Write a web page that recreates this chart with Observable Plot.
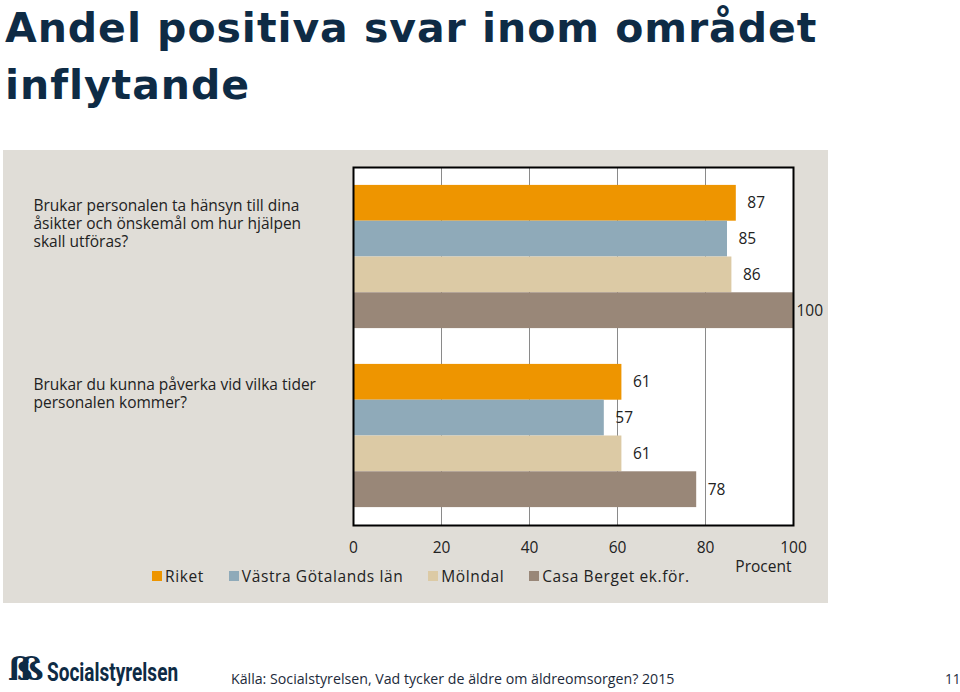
<!DOCTYPE html>
<html>
<head>
<meta charset="utf-8">
<script src="https://cdn.jsdelivr.net/npm/d3@7"></script>
<script src="https://cdn.jsdelivr.net/npm/@observablehq/plot@0.6"></script>
<style>
  html, body { margin: 0; padding: 0; background: #ffffff; }
  body { width: 960px; height: 692px; position: relative; overflow: hidden; font-family: "Open Sans", sans-serif; }
  #title { position: absolute; left: 5px; top: 0px; font-family: "DejaVu Sans", sans-serif; font-weight: bold; font-size: 41px; line-height: 57px; color: #0e2b45; letter-spacing: 0.95px; }
  #panel { position: absolute; left: 3px; top: 150px; width: 825px; height: 453px; background: #e0ddd7; }
  #chart { position: absolute; left: 0; top: 0; }
  #legend { position: absolute; left: 149px; top: 415px; }
  .lg-swatches { font-family: "Open Sans", sans-serif !important; font-size: 15.5px !important; letter-spacing: 0.6px; color: #222 !important; min-height: 0 !important; margin: 0 !important; }
  .lg-swatch { margin-right: 25px !important; }
  .lg-swatch > svg { margin-right: 3px !important; }
  #logo { position: absolute; left: 8px; top: 650px; color: #0e2b45; display: flex; align-items: center; white-space: nowrap; }
  #logo .sym { font-family: "DejaVu Serif", serif; font-weight: bold; font-size: 32px; letter-spacing: -13px; margin-right: 16px; }
  #logo .name { font-family: "Roboto", sans-serif; font-weight: bold; font-size: 25px; display: inline-block; transform: scaleX(0.76); transform-origin: left center; position: relative; top: 3px; }
  #source { position: absolute; left: 231px; top: 669px; font-size: 14.2px; color: #1c2a3a; }
  #page { position: absolute; left: 945px; top: 669px; font-size: 13.6px; color: #1c2a3a; }
</style>
</head>
<body>
<div id="title">Andel positiva svar inom området<br>inflytande</div>
<div id="panel"><div id="chart"></div><div id="legend"></div></div>
<div id="logo"><span class="sym">ßß</span><span class="name">Socialstyrelsen</span></div>
<div id="source">Källa: Socialstyrelsen, Vad tycker de äldre om äldreomsorgen? 2015</div>
<div id="page">11</div>
<script>
// ---- data ----
const questions = [
  "Brukar personalen ta hänsyn till dina\nåsikter och önskemål om hur hjälpen\nskall utföras?",
  "Brukar du kunna påverka vid vilka tider\npersonalen kommer?"
];
const series = ["Riket", "Västra Götalands län", "Mölndal", "Casa Berget ek.för."];
const colors = ["#ee9500", "#8faab9", "#dccaa5", "#998778"];
const riket = [87, 61];
const vastraGotaland = [85, 57];
const molndal = [86, 61];
const casaBerget = [100, 78];
const xTicks = [0, 20, 40, 60, 80, 100];
const xLabel = "Procent";

// ---- table ----
const valuesBySeries = [riket, vastraGotaland, molndal, casaBerget];
const rows = [];
questions.forEach((q, qi) => {
  series.forEach((s, si) => {
    const y1 = qi * 5 + 0.5 + si;
    rows.push({question: q, series: s, value: valuesBySeries[si][qi], y1, y2: y1 + 1, ym: y1 + 0.5});
  });
});
const qrows = questions.map((q, qi) => ({question: q, y: qi * 5 + 0.5}));

const chart = Plot.plot({
  width: 825,
  height: 453,
  marginLeft: 350,
  marginRight: 35,
  marginTop: 17,
  marginBottom: 78,
  style: {fontFamily: "Open Sans, sans-serif", fontSize: "15.5px", color: "#222", background: "transparent"},
  x: {domain: [0, 100]},
  y: {domain: [0, 10], reverse: true, axis: null},
  color: {domain: series, range: colors},
  marks: [
    Plot.frame({fill: "white", stroke: null}),
    Plot.gridX(xTicks.filter(t => t > 0 && t < 100), {stroke: "#8a8a8a", strokeOpacity: 1, strokeWidth: 1}),
    Plot.rectX(rows, {x1: 0, x2: "value", y1: "y1", y2: "y2", fill: "series"}),
    Plot.text(rows.filter(d => d.value < 95), {x: "value", y: "ym", text: d => String(d.value), textAnchor: "start", dx: 11, fill: "#222", fontSize: 15.5}),
    Plot.text(rows.filter(d => d.value >= 95), {x: "value", y: "ym", text: d => String(d.value), textAnchor: "start", dx: 3, fill: "#222", fontSize: 15.5}),
    Plot.text(qrows, {y: "y", text: "question", frameAnchor: "left", textAnchor: "start", lineAnchor: "top", dx: -320, dy: 13, lineHeight: 1.16, fill: "#222", fontSize: 15.5, letterSpacing: 0.15}),
    Plot.frame({stroke: "#000", strokeWidth: 2}),
    Plot.axisX(xTicks, {anchor: "bottom", tickSize: 0, tickPadding: 16, label: null, fill: "#222", fontSize: 15.5}),
    Plot.text([xLabel], {x: xTicks[xTicks.length - 1], frameAnchor: "bottom", text: d => d, textAnchor: "end", lineAnchor: "middle", dx: -2, dy: 42, fill: "#222", fontSize: 15.5})
  ]
});
document.getElementById("chart").appendChild(chart);

const legend = Plot.legend({color: {domain: series, range: colors}, swatchSize: 10, className: "lg"});
document.getElementById("legend").appendChild(legend);
</script>
</body>
</html>
